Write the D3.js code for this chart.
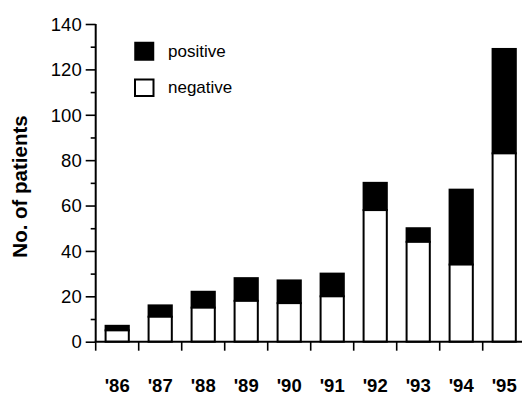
<!DOCTYPE html>
<html>
<head>
<meta charset="utf-8">
<script src="https://cdn.jsdelivr.net/npm/d3@7"></script>
<style>
  html, body { margin: 0; padding: 0; background: #fff; }
  svg { display: block; }
  text { font-family: "Liberation Sans", Arial, Helvetica, sans-serif; fill: #000; }
</style>
</head>
<body>
<svg id="chart" width="522" height="395"></svg>
<script>
const years = ["'86", "'87", "'88", "'89", "'90", "'91", "'92", "'93", "'94", "'95"];
const negative = [5, 11, 15, 18, 17, 20, 58, 44, 34, 83];
const positive = [2, 5, 7, 10, 10, 10, 12, 6, 33, 46];
const yMajorTicks = [0, 20, 40, 60, 80, 100, 120, 140];
const yMinorTicks = [10, 30, 50, 70, 90, 110, 130];
const seriesNames = ["positive", "negative"];
const yLabel = "No. of patients";

const svg = d3.select("#chart");

const y = d3.scaleLinear().domain([0, 140]).range([341.7, 24]);
const x = d3.scaleBand().domain(years).range([95.7, 525.7]).paddingInner(0.46).paddingOuter(0.23);
const step = x.step();
const x0 = x.range()[0];

// Bars
const g = svg.append("g");
years.forEach((yr, i) => {
  const n = negative[i], p = positive[i];
  g.append("rect")
    .attr("x", x(yr)).attr("width", x.bandwidth())
    .attr("y", y(n + p)).attr("height", y(n) - y(n + p))
    .attr("fill", "#000").attr("stroke", "#000").attr("stroke-width", 2);
  g.append("rect")
    .attr("x", x(yr)).attr("width", x.bandwidth())
    .attr("y", y(n)).attr("height", y(0) - y(n))
    .attr("fill", "#fff").attr("stroke", "#000").attr("stroke-width", 2);
});

// Y axis
const yAxis = svg.append("g").attr("transform", `translate(${x0},0)`)
  .call(d3.axisLeft(y).tickValues(yMajorTicks).tickSize(10).tickPadding(4).tickSizeOuter(0));
yAxis.select(".domain").attr("stroke-width", 2).attr("d", `M0,${y(140)}V${y(0)}`);
yAxis.selectAll(".tick line").attr("stroke-width", 1.6);
yAxis.selectAll(".tick text").style("font-size", "18.5px").attr("dy", "0.34em")
  .style("font-family", '"Liberation Sans", Arial, sans-serif');

const yMinor = svg.append("g").attr("transform", `translate(${x0},0)`)
  .call(d3.axisLeft(y).tickValues(yMinorTicks).tickSize(5).tickFormat(""));
yMinor.select(".domain").remove();
yMinor.selectAll(".tick line").attr("stroke-width", 1.6);

// X axis line and boundary ticks
const boundaries = d3.range(years.length + 1).map(i => x0 + i * step);
svg.append("line")
  .attr("x1", x0 - 1).attr("x2", 522)
  .attr("y1", y(0)).attr("y2", y(0))
  .attr("stroke", "#000").attr("stroke-width", 2);
svg.append("g").selectAll("line").data(boundaries).join("line")
  .attr("x1", d => d).attr("x2", d => d)
  .attr("y1", y(0)).attr("y2", y(0) + 9)
  .attr("stroke", "#000").attr("stroke-width", 1.6);

// X labels
svg.append("g").selectAll("text").data(years).join("text")
  .attr("x", d => x(d) + x.bandwidth() / 2)
  .attr("y", 392)
  .attr("text-anchor", "middle")
  .style("font-size", "18.5px").style("font-weight", "bold")
  .text(d => d);

// Y label
svg.append("text")
  .attr("transform", "translate(27,186.5) rotate(-90)")
  .attr("text-anchor", "middle")
  .style("font-size", "20.5px").style("font-weight", "bold")
  .text(yLabel);

// Legend
const legend = svg.append("g");
legend.append("rect").attr("x", 135).attr("y", 42.5).attr("width", 18.5).attr("height", 17.5)
  .attr("fill", "#000").attr("stroke", "#000").attr("stroke-width", 1.5);
legend.append("rect").attr("x", 135).attr("y", 79.5).attr("width", 18.5).attr("height", 16.5)
  .attr("fill", "#fff").attr("stroke", "#000").attr("stroke-width", 2);
legend.append("text").attr("x", 168).attr("y", 56.5).style("font-size", "17px").text(seriesNames[0]);
legend.append("text").attr("x", 168).attr("y", 93).style("font-size", "17px").text(seriesNames[1]);
</script>
</body>
</html>
